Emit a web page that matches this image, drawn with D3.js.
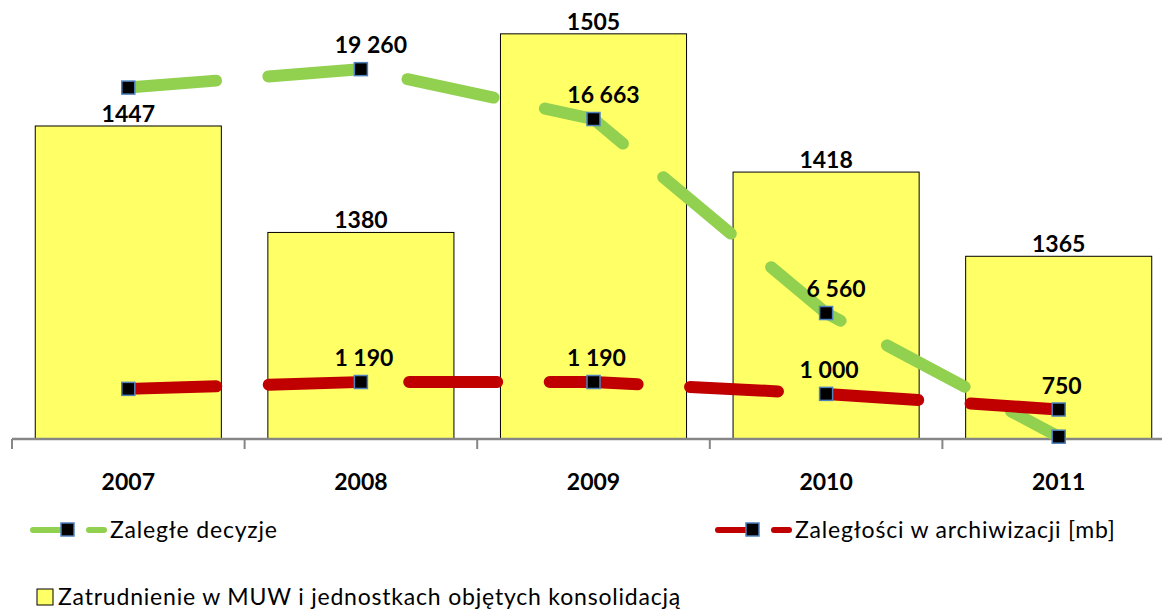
<!DOCTYPE html>
<html>
<head>
<meta charset="utf-8">
<script src="https://cdn.jsdelivr.net/npm/d3@7"></script>
<style>
  body { margin: 0; background: #fff; }
  svg { display: block; font-family: Lato, "Noto Sans", sans-serif; }
</style>
</head>
<body>
<svg id="chart"></svg>
<script>
// chart data
const years = ['2007', '2008', '2009', '2010', '2011'];
const employment = [1447, 1380, 1505, 1418, 1365];
const decisions = [18300, 19260, 16663, 6560, 120];
const decisionsLabeled = [false, true, true, true, false];
const archive = [1080, 1190, 1190, 1000, 750];
const archiveLabeled = [false, true, true, true, true];

const seriesNames = {
    bars: 'Zatrudnienie w MUW i jednostkach objętych konsolidacją',
    decisions: 'Zaległe decyzje',
    archive: 'Zaległości w archiwizacji [mb]'
};

const svgWidth = 1162;
const svgHeight = 609;
const baseY = 439;
const topY = 10;

const svg = d3.select('#chart')
    .attr('width', svgWidth)
    .attr('height', svgHeight);

const x = d3.scaleBand()
    .domain(years)
    .range([12, 1175])
    .paddingInner(0.2)
    .paddingOuter(0.1);

// three hidden value axes, like the original workbook
const yBars = d3.scaleLinear().domain([1250, 1520]).range([baseY, topY]);
const yDecisions = d3.scaleLinear().domain([0, 22340]).range([baseY, topY]);
const yArchive = d3.scaleLinear().domain([278, 7142]).range([baseY, topY]);

const spaced = d3.formatLocale({ decimal: ',', thousands: '\u00a0', grouping: [3], currency: ['', ''] }).format(',d');
const cx = d => x(d) + x.bandwidth() / 2;

// bars
svg.append('g')
    .selectAll('rect')
    .data(years)
    .enter()
    .append('rect')
    .attr('x', d => x(d))
    .attr('y', (d, i) => yBars(employment[i]))
    .attr('width', x.bandwidth())
    .attr('height', (d, i) => baseY - yBars(employment[i]))
    .attr('fill', '#ffff66')
    .attr('stroke', '#000')
    .attr('stroke-width', 1);

svg.append('g')
    .selectAll('text')
    .data(years)
    .enter()
    .append('text')
    .attr('x', cx)
    .attr('y', (d, i) => yBars(employment[i]) - 4)
    .attr('text-anchor', 'middle')
    .style('font-size', '23px')
    .style('font-weight', 'bold')
    .text((d, i) => employment[i]);

// x axis
const axisG = svg.append('g')
    .attr('transform', `translate(0, ${baseY})`)
    .call(d3.axisBottom(x).tickSize(0).tickPadding(0));
axisG.select('.domain').remove();
axisG.selectAll('text')
    .attr('y', 51)
    .attr('dy', 0)
    .style('font-family', 'Lato, "Noto Sans", sans-serif')
    .style('font-size', '23px')
    .style('font-weight', 'bold')
    .attr('fill', '#000');

axisG.append('line')
    .attr('x1', x.range()[0])
    .attr('x2', x.range()[1])
    .attr('stroke', '#868686')
    .attr('stroke-width', 2.5);

const bounds = d3.range(years.length + 1).map(i => x.range()[0] + i * x.step());
axisG.selectAll('.bound')
    .data(bounds)
    .enter()
    .append('line')
    .attr('class', 'bound')
    .attr('x1', d => d)
    .attr('x2', d => d)
    .attr('y1', 0)
    .attr('y2', 10)
    .attr('stroke', '#868686')
    .attr('stroke-width', 2);

// line series
function drawSeries(values, labeled, yScale, color, labelDx) {
    const pts = years.map((d, i) => [cx(d), yScale(values[i])]);

    svg.append('path')
        .datum(pts)
        .attr('d', d3.line())
        .attr('fill', 'none')
        .attr('stroke', color)
        .attr('stroke-width', 12)
        .attr('stroke-linecap', 'round')
        .attr('stroke-linejoin', 'round')
        .attr('stroke-dasharray', '88 52.5');

    svg.append('g')
        .selectAll('rect')
        .data(pts)
        .enter()
        .append('rect')
        .attr('x', d => d[0] - 6.5)
        .attr('y', d => d[1] - 6.5)
        .attr('width', 13)
        .attr('height', 13)
        .attr('fill', '#000')
        .attr('stroke', '#4f81bd')
        .attr('stroke-width', 1.5);

    const labels = pts
        .map((p, i) => ({ p, v: values[i], show: labeled[i] }))
        .filter(d => d.show);

    svg.append('g')
        .selectAll('text')
        .data(labels)
        .enter()
        .append('text')
        .attr('x', d => d.p[0] + labelDx)
        .attr('y', d => d.p[1] - 16)
        .attr('text-anchor', 'middle')
        .style('font-size', '23px')
        .style('font-weight', 'bold')
        .text(d => spaced(d.v));
}

drawSeries(decisions, decisionsLabeled, yDecisions, '#92d050', 10);
drawSeries(archive, archiveLabeled, yArchive, '#c00000', 3);

// legend
function lineLegend(x0, y0, color, label) {
    const g = svg.append('g').attr('transform', `translate(${x0}, ${y0})`);
    g.append('line')
        .attr('x1', 3).attr('x2', 37)
        .attr('stroke', color).attr('stroke-width', 6).attr('stroke-linecap', 'round');
    g.append('line')
        .attr('x1', 59).attr('x2', 74)
        .attr('stroke', color).attr('stroke-width', 6).attr('stroke-linecap', 'round');
    g.append('rect')
        .attr('x', 31).attr('y', -7)
        .attr('width', 13).attr('height', 13)
        .attr('fill', '#000').attr('stroke', '#4f81bd').attr('stroke-width', 1.5);
    g.append('text')
        .attr('x', 80)
        .attr('y', 8)
        .style('font-size', '23px')
        .style('letter-spacing', '0.8px')
        .text(label);
}

lineLegend(30, 530, '#92d050', seriesNames.decisions);
lineLegend(715, 530, '#c00000', seriesNames.archive);

svg.append('rect')
    .attr('x', 37).attr('y', 589)
    .attr('width', 16).attr('height', 16)
    .attr('fill', '#ffff66').attr('stroke', '#000').attr('stroke-width', 1);
svg.append('text')
    .attr('x', 58)
    .attr('y', 605)
    .style('font-size', '23px')
    .style('letter-spacing', '0.8px')
    .text(seriesNames.bars);
</script>
</body>
</html>
